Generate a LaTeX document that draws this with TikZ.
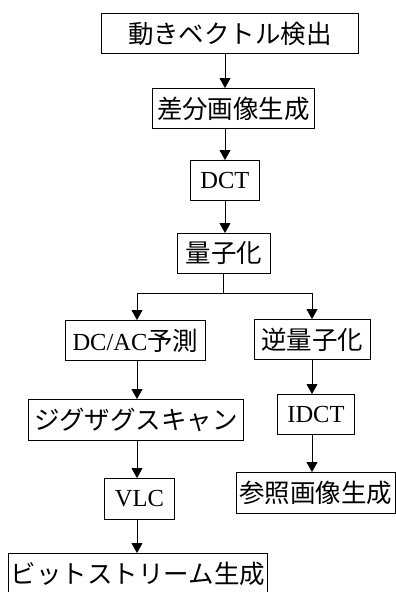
\documentclass[tikz,border=0pt]{standalone}
\usepackage{fontspec}
\setmainfont{Liberation Serif}
\newfontfamily\jp{Noto Sans CJK JP}[Scale=1.04]
\usetikzlibrary{arrows.meta}
\begin{document}
\begin{tikzpicture}[x=1pt,y=-1pt,
  box/.style={draw=black,line width=0.9pt,rectangle,inner sep=0pt,anchor=north west,
    font=\fontsize{24.5}{28}\selectfont},
  arr/.style={draw=black,line width=0.9pt,-{Triangle[width=11pt,length=10pt]}},
  ln/.style={draw=black,line width=0.9pt}]
\useasboundingbox (0,0) rectangle (396,592);
\newcommand{\bx}[7]{\node[box,minimum width=#4pt,minimum height=#5pt] (#1) at (#2,#3) {#6};}
\bx{n1}{101}{13}{257}{40}{{\jp 動きベクトル検出}}{}
\bx{n2}{152}{88}{162}{40}{{\jp 差分画像生成}}{}
\bx{n3}{190}{160}{69}{40}{DCT}{}
\bx{n4}{177}{233}{93}{40}{{\jp 量子化}}{}
\bx{n5}{65}{320}{140}{40}{DC/AC{\jp 予測}}{}
\bx{n6}{254}{319}{116}{40}{{\jp 逆量子化}}{}
\bx{n7}{28}{399}{215}{41}{{\jp ジグザグスキャン}}{}
\bx{n8}{277}{394}{77}{40}{IDCT}{}
\bx{n9}{236}{472}{159}{41}{{\jp 参照画像生成}}{}
\bx{n10}{104}{478}{70}{41}{VLC}{}
\bx{n11}{8}{553}{259}{41}{{\jp ビットストリーム生成}}{}
\coordinate (ca) at (225,0);
\coordinate (cl) at (137,0);
\coordinate (cr) at (312,0);
\coordinate (split) at (223,293);
\draw[arr] (n1.south -| ca) -- (n2.north -| ca);
\draw[arr] (n2.south -| ca) -- (n3.north -| ca);
\draw[arr] (n3.south -| ca) -- (n4.north -| ca);
\draw[ln] (n4.south -| split) -- (split);
\draw[arr] (split) -| (n5.north -| cl);
\draw[arr] (split) -| (n6.north -| cr);
\draw[arr] (n5.south -| cl) -- (n7.north -| cl);
\draw[arr] (n7.south -| cl) -- (n10.north -| cl);
\draw[arr] (n10.south -| cl) -- (n11.north -| cl);
\draw[arr] (n6.south -| cr) -- (n8.north -| cr);
\draw[arr] (n8.south -| cr) -- (n9.north -| cr);
\end{tikzpicture}
\end{document}
